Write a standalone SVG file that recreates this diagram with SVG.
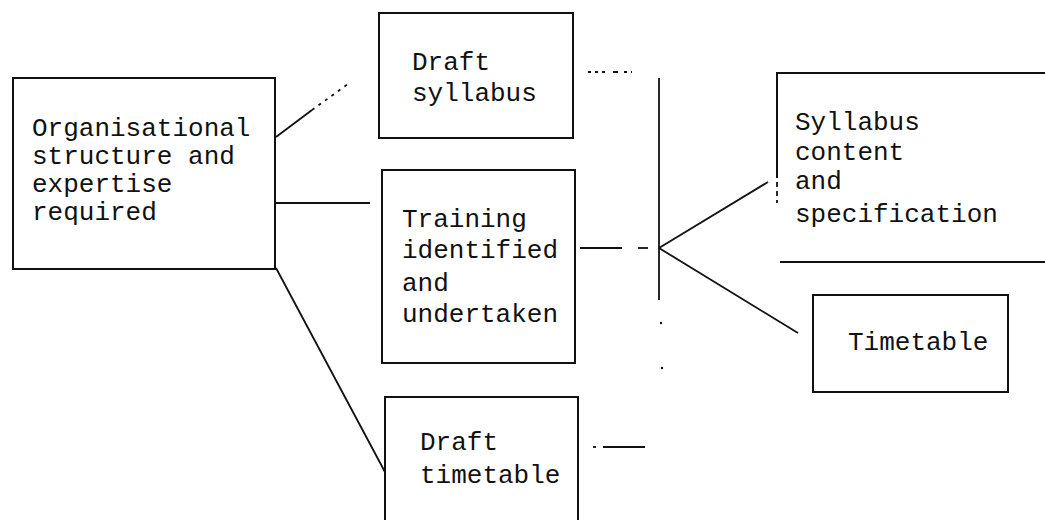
<svg xmlns="http://www.w3.org/2000/svg" width="1045" height="520" viewBox="0 0 1045 520">
<style>
.box{fill:none;stroke:#111;stroke-width:2}
.ln{fill:none;stroke:#111;stroke-width:1.8}
.t{font-family:"Liberation Mono","DejaVu Sans Mono",monospace;font-size:26px;fill:#111}
</style>
<rect width="1045" height="520" fill="#fff"/>
<g id="connectors">
<line class="ln" x1="276" y1="137" x2="312" y2="110"/>
<line class="ln" x1="312" y1="110" x2="348" y2="84" stroke-dasharray="3,5"/>
<line class="ln" x1="276" y1="203" x2="370" y2="203"/>
<line class="ln" x1="276" y1="268" x2="385" y2="472"/>
<line class="ln" x1="588" y1="72" x2="632" y2="72" stroke-dasharray="3,4,3,4,3,8,5,6"/>
<line class="ln" x1="659" y1="78" x2="659" y2="300"/>
<circle cx="661" cy="323" r="1.2" fill="#111"/>
<circle cx="662" cy="368" r="1.2" fill="#111"/>
<line class="ln" x1="580" y1="248" x2="622" y2="248"/>
<line class="ln" x1="638" y1="248" x2="648" y2="248"/>
<line class="ln" x1="659" y1="248" x2="768" y2="182"/>
<line class="ln" x1="659" y1="248" x2="798" y2="333"/>
<line class="ln" x1="593" y1="447" x2="596" y2="447"/>
<line class="ln" x1="603" y1="447" x2="645" y2="447"/>
</g>
<g id="organisational">
<rect class="box" x="13" y="78" width="262" height="191"/>
<text class="t" x="32" y="136">Organisational</text>
<text class="t" x="32" y="164">structure and</text>
<text class="t" x="32" y="192">expertise</text>
<text class="t" x="32" y="220">required</text>
</g>
<g id="draft-syllabus">
<rect class="box" x="379" y="13" width="194" height="125"/>
<text class="t" x="412" y="70">Draft</text>
<text class="t" x="412" y="101">syllabus</text>
</g>
<g id="training">
<rect class="box" x="382" y="170" width="193" height="193"/>
<text class="t" x="402" y="227">Training</text>
<text class="t" x="402" y="258">identified</text>
<text class="t" x="402" y="291">and</text>
<text class="t" x="402" y="322">undertaken</text>
</g>
<g id="draft-timetable">
<path class="box" d="M385,525 V397 H578 V525"/>
<text class="t" x="420" y="450">Draft</text>
<text class="t" x="420" y="483">timetable</text>
</g>
<g id="syllabus-content">
<path class="box" d="M1047,73 H777 V178"/>
<line class="ln" x1="777" y1="182" x2="777" y2="203" stroke-dasharray="5,4"/>
<line class="box" x1="780" y1="262" x2="1047" y2="262"/>
<text class="t" x="795" y="130">Syllabus</text>
<text class="t" x="795" y="160">content</text>
<text class="t" x="795" y="189">and</text>
<text class="t" x="795" y="222">specification</text>
</g>
<g id="timetable">
<rect class="box" x="813" y="295" width="195" height="97"/>
<text class="t" x="848" y="350">Timetable</text>
</g>
</svg>
